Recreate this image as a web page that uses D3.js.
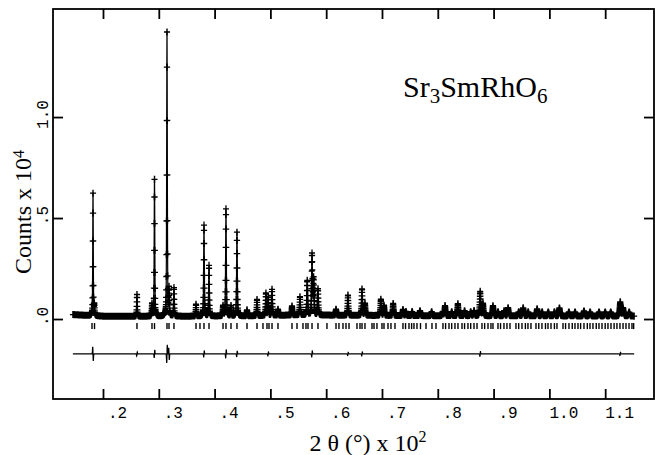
<!DOCTYPE html>
<html>
<head>
<meta charset="utf-8">
<script src="https://cdn.jsdelivr.net/npm/d3@7"></script>
<style>
body { margin: 0; background: #fff; }
</style>
</head>
<body>
<script>
// 2 theta in degrees, heights in counts x 10^4
var stepDeg = 0.02;
var startDeg = 14.6;
var endDeg = 115.2;

var bgPos = [14.6, 17.0, 20.0, 30.0, 45.0, 55.0, 65.0, 80.0, 100.0, 115.2];
var bgVal = [0.022, 0.018, 0.014, 0.013, 0.015, 0.02, 0.018, 0.016, 0.015, 0.014];

var peakPos = [18.21, 18.45, 26.09, 28.78, 29.23, 31.47, 31.83, 32.72, 36.67, 38.10,
    39.00, 41.51, 42.04, 42.94, 44.01, 45.81, 47.60, 49.20, 49.60, 50.29,
    51.36, 53.87, 55.30, 56.60, 57.46, 57.75, 58.53, 61.76, 63.90, 66.42,
    66.95, 69.80, 70.36, 72.00, 73.76, 74.30, 75.40, 76.81, 78.90, 80.90,
    81.30, 82.50, 83.60, 84.80, 85.90, 86.50, 87.60, 88.10, 89.89, 90.80,
    91.90, 92.60, 94.50, 95.30, 96.20, 97.80, 98.70, 99.80, 100.90, 101.80,
    103.50, 104.60, 106.20, 107.30, 108.90, 110.00, 111.00, 112.70, 113.20, 114.30];
var peakHt = [0.62, 0.05, 0.11, 0.06, 0.69, 1.43, 0.13, 0.14, 0.06, 0.45,
    0.25, 0.05, 0.53, 0.05, 0.42, 0.03, 0.08, 0.11, 0.09, 0.13,
    0.03, 0.045, 0.09, 0.17, 0.30, 0.18, 0.13, 0.03, 0.10, 0.13,
    0.06, 0.08, 0.05, 0.06, 0.03, 0.02, 0.02, 0.025, 0.02, 0.02,
    0.05, 0.02, 0.06, 0.025, 0.02, 0.025, 0.12, 0.06, 0.05, 0.02,
    0.025, 0.04, 0.02, 0.04, 0.02, 0.035, 0.02, 0.02, 0.02, 0.04,
    0.02, 0.02, 0.025, 0.02, 0.02, 0.02, 0.02, 0.07, 0.04, 0.02];

var reflections = [18.03, 18.48, 26.09, 28.78, 29.23, 31.47, 31.83, 32.72, 36.67, 37.38,
    38.10, 39.00, 41.51, 42.04, 42.94, 44.01, 45.81, 47.60, 48.67, 49.39,
    49.75, 50.29, 51.36, 53.87, 54.77, 55.84, 56.38, 56.74, 57.46, 58.53,
    60.14, 61.76, 62.29, 63.01, 63.55, 64.09, 65.52, 66.06, 66.42, 66.95,
    68.21, 68.57, 69.10, 70.00, 70.36, 71.08, 71.61, 72.33, 73.76, 74.22,
    74.84, 75.31, 75.73, 76.27, 76.90, 77.89, 78.96, 79.68, 80.93, 81.40,
    82.01, 82.49, 83.08, 83.62, 84.34, 84.80, 85.41, 85.90, 86.49, 87.03,
    87.92, 88.40, 89.00, 89.53, 89.89, 90.79, 91.25, 91.86, 92.40, 92.94,
    94.01, 94.50, 95.09, 95.70, 96.16, 96.70, 97.60, 98.10, 98.67, 99.30,
    99.75, 100.29, 100.90, 101.36, 102.44, 102.90, 103.51, 104.10, 104.59, 105.13,
    105.60, 106.20, 106.80, 107.28, 107.81, 108.40, 108.89, 109.43, 110.00, 110.50,
    111.04, 111.60, 112.11, 112.65, 113.20, 113.73, 114.27, 114.80, 115.10];

var diffBase = -0.173;
var diffPos = [18.21, 26.09, 29.23, 31.47, 31.83, 38.10, 42.04, 44.01, 49.60, 57.46, 63.90, 66.42, 87.60, 112.70];
var diffAmp = [-0.035, 0.01, 0.02, 0.045, -0.03, 0.015, 0.02, 0.015, 0.01, 0.015, 0.008, 0.01, 0.012, 0.008];

var xTicks = [20, 30, 40, 50, 60, 70, 80, 90, 100, 110];
var yTicks = [0, 0.5, 1.0];

var W = 655, H = 455;
var pL = 53, pR = 654, pT = 9, pB = 399;

var x = d3.scaleLinear().domain([11.04, 118.75]).range([pL, pR]);
var y = d3.scaleLinear().domain([-0.396, 1.535]).range([pB, pT]);
var bg = d3.scaleLinear().domain(bgPos).range(bgVal);

// pseudo-Voigt peak, width grows with angle
function profile(t) {
    var s = bg(t);
    for (var i = 0; i < peakPos.length; i++) {
        var fw = 0.09 + 0.0015 * peakPos[i];
        var u = (t - peakPos[i]) / fw;
        if (Math.abs(u) > 40) continue;
        var g = Math.exp(-4 * Math.LN2 * u * u);
        var l = 1 / (1 + 4 * u * u);
        s += peakHt[i] * (0.6 * g + 0.4 * l);
    }
    return s;
}
function difference(t) {
    var s = diffBase;
    for (var i = 0; i < diffPos.length; i++) {
        var u = (t - diffPos[i]) / 0.05;
        if (Math.abs(u) > 8) continue;
        s += diffAmp[i] * u * Math.exp(0.5 - u * u / 2);
    }
    return s;
}

function fmt(d) {
    var s = d3.format(".1f")(d);
    return s.indexOf("0.") === 0 ? s.slice(1) : s;
}

var grid = d3.range(startDeg, endDeg + 1e-9, stepDeg);
var obs = grid.map(function (t) { return { t: t, v: profile(t), d: difference(t) }; });

var svg = d3.select("body").append("svg").attr("width", W).attr("height", H);
svg.append("rect").attr("width", W).attr("height", H).attr("fill", "#fff");

// observed points as + markers
var plus = "";
obs.forEach(function (d) {
    var px = x(d.t), py = y(d.v);
    plus += "M" + (px - 3) + "," + py + "h6M" + px + "," + (py - 3.5) + "v7";
});
svg.append("path").attr("d", plus).attr("stroke", "#000").attr("stroke-width", 1.3).attr("fill", "none");

// calculated line
svg.append("path")
    .datum(obs)
    .attr("d", d3.line().x(function (d) { return x(d.t); }).y(function (d) { return y(d.v); }))
    .attr("fill", "none").attr("stroke", "#000").attr("stroke-width", 1.2);

// reflection markers
svg.selectAll("line.refl")
    .data(reflections)
    .enter()
    .append("line")
    .attr("class", "refl")
    .attr("x1", function (d) { return x(d); })
    .attr("x2", function (d) { return x(d); })
    .attr("y1", y(-0.02))
    .attr("y2", y(-0.05))
    .attr("stroke", "#000").attr("stroke-width", 1.4);

// difference curve
svg.append("path")
    .datum(obs)
    .attr("d", d3.line().x(function (d) { return x(d.t); }).y(function (d) { return y(d.d); }))
    .attr("fill", "none").attr("stroke", "#000").attr("stroke-width", 1.2);

// frame
svg.append("rect")
    .attr("x", pL).attr("y", pT)
    .attr("width", pR - pL).attr("height", pB - pT)
    .attr("fill", "none").attr("stroke", "#000").attr("stroke-width", 1.8);

var gx = svg.append("g").attr("transform", "translate(0," + pB + ")")
    .call(d3.axisBottom(x).tickValues(xTicks).tickSize(-10).tickFormat(function (d) { return fmt(d / 100); }));
gx.selectAll("text").attr("y", 8).attr("dx", 14);

svg.append("g").attr("transform", "translate(0," + pT + ")")
    .call(d3.axisTop(x).tickValues(xTicks).tickSize(-10).tickFormat(""));

var gy = svg.append("g").attr("transform", "translate(" + pL + ",0)")
    .call(d3.axisLeft(y).tickValues(yTicks).tickSize(-10).tickFormat(fmt));
gy.selectAll("text")
    .attr("transform", "rotate(-90)")
    .attr("text-anchor", "middle")
    .attr("x", 3).attr("y", -5).attr("dy", 0);

svg.append("g").attr("transform", "translate(" + pR + ",0)")
    .call(d3.axisRight(y).tickValues(yTicks).tickSize(-10).tickFormat(""));

svg.selectAll(".domain").remove();
svg.selectAll(".tick line").attr("stroke", "#000").attr("stroke-width", 1.8);
svg.selectAll(".tick text").attr("font-family", "Liberation Mono, monospace").attr("font-size", 16).attr("fill", "#000");

// titles
var ylab = svg.append("text")
    .attr("transform", "translate(31,212) rotate(-90)")
    .attr("text-anchor", "middle")
    .attr("font-family", "Liberation Serif, serif").attr("font-size", 24);
ylab.append("tspan").text("Counts x 10");
ylab.append("tspan").attr("font-size", 16).attr("dy", -7).text("4");

var xlab = svg.append("text")
    .attr("x", 368).attr("y", 451)
    .attr("text-anchor", "middle")
    .attr("font-family", "Liberation Serif, serif").attr("font-size", 24);
xlab.append("tspan").text("2 θ (°) x 10");
xlab.append("tspan").attr("font-size", 16).attr("dy", -9).text("2");

var title = svg.append("text")
    .attr("x", 403).attr("y", 97)
    .attr("font-family", "Liberation Serif, serif").attr("font-size", 30);
title.append("tspan").text("Sr");
title.append("tspan").attr("font-size", 21).attr("dy", 6).text("3");
title.append("tspan").attr("dy", -6).text("SmRhO");
title.append("tspan").attr("font-size", 21).attr("dy", 6).text("6");
</script>
</body>
</html>
